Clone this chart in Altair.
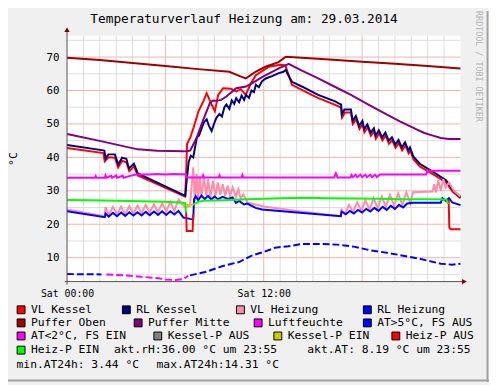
import altair as alt
import pandas as pd

# ---------------- data (x = hours since Sat 00:00, y = °C) ----------------
vl_kessel = [[(0, 42.8), (2.22, 41.3), (2.3, 38.8), (2.52, 40.0), (2.92, 39.9), (3.12, 37.0),
              (3.36, 39.0), (3.62, 38.5), (3.8, 35.9), (4.08, 37.3), (4.32, 34.6), (7.2, 28.3),
              (7.26, 34.0), (7.32, 44.0), (7.52, 46.0), (7.72, 48.9), (8.02, 53.8), (8.32, 56.8),
              (8.52, 59.2), (8.82, 55.8), (9.02, 53.8), (9.22, 58.7), (9.52, 60.7), (10.0, 60.5),
              (10.32, 59.7), (10.6, 60.4), (10.9, 58.7), (11.2, 62.0), (11.52, 64.6), (12.32, 67.1),
              (13.0, 67.7), (13.32, 67.5), (13.72, 61.7), (14.32, 60.2), (15.3, 57.8), (16.32, 55.8),
              (16.72, 54.9), (16.78, 51.9), (16.95, 53.4), (17.32, 53.4), (17.44, 50.0), (17.64, 51.4),
              (17.84, 48.5), (18.04, 50.0), (18.14, 47.5), (18.34, 49.0), (18.54, 46.5), (18.74, 47.8),
              (18.84, 45.6), (19.04, 47.2), (19.24, 45.1), (19.44, 46.5), (19.64, 44.1), (19.84, 45.1),
              (20.04, 42.9), (20.24, 44.3), (20.44, 42.1), (20.64, 43.6), (20.84, 41.2), (20.94, 42.0),
              (21.14, 39.4), (21.52, 37.3), (22.32, 35.0), (23.12, 32.5), (23.52, 29.8), (24.0, 27.8)]]

rl_kessel = [[(0, 43.7), (2.22, 42.1), (2.28, 42.0), (2.36, 39.6), (2.52, 40.9), (2.92, 40.9),
              (3.12, 37.9), (3.36, 39.9), (3.62, 39.6), (3.78, 36.7), (4.08, 38.1), (4.32, 35.2),
              (7.22, 28.5), (7.3, 33.2), (7.42, 38.6), (7.55, 40.5), (7.7, 40.0), (7.92, 46.0),
              (8.05, 46.5), (8.2, 48.5), (8.35, 50.5), (8.52, 51.4), (8.65, 49.5), (8.82, 47.9),
              (9.0, 50.5), (9.12, 51.9), (9.3, 53.0), (9.45, 52.2), (9.6, 55.0), (9.72, 55.8),
              (9.9, 54.5), (10.05, 57.0), (10.2, 56.0), (10.32, 57.7), (10.5, 56.5), (10.65, 58.5),
              (10.8, 57.2), (10.92, 58.7), (11.1, 57.8), (11.25, 60.0), (11.4, 59.5), (11.52, 61.7),
              (11.7, 61.0), (11.9, 62.8), (12.12, 63.6), (12.5, 64.3), (12.92, 65.2), (13.2, 65.6),
              (13.35, 66.2), (13.45, 65.0), (13.72, 62.6), (14.32, 61.2), (15.32, 58.7), (16.32, 56.8),
              (16.72, 55.8), (16.76, 52.8), (16.92, 54.3), (17.32, 54.3), (17.42, 50.9), (17.62, 52.4),
              (17.82, 49.4), (18.02, 50.9), (18.12, 48.4), (18.32, 49.9), (18.52, 47.4), (18.72, 48.7),
              (18.82, 46.5), (19.02, 48.1), (19.22, 46.0), (19.42, 47.4), (19.62, 45.0), (19.82, 46.0),
              (20.02, 43.8), (20.22, 45.2), (20.42, 43.0), (20.62, 44.5), (20.82, 42.1), (20.92, 43.0),
              (21.12, 40.3), (21.52, 38.1), (22.32, 35.7), (23.12, 33.2), (23.52, 30.3), (24.0, 28.1)]]

vl_heizung = [[(0, 24.4), (2.3, 22.4), (2.35, 25.1), (2.55, 22.8), (2.8, 25.2), (3.05, 22.9),
               (3.3, 25.3), (3.55, 23.0), (3.8, 25.4), (4.05, 23.2), (4.3, 25.6), (4.55, 23.3),
               (4.8, 25.8), (5.05, 23.5), (5.3, 26.0), (5.55, 23.6), (5.8, 26.3), (6.05, 23.8),
               (6.3, 26.7), (6.55, 24.0), (6.8, 27.4), (7.0, 26.2), (7.2, 25.0), (7.5, 25.5),
               (7.7, 37.0), (7.8, 27.0), (7.9, 35.0), (8.0, 27.5), (8.1, 34.5), (8.2, 28.0),
               (8.35, 34.0), (8.5, 28.5), (8.6, 33.5), (8.75, 28.0), (8.9, 33.0), (9.05, 28.5),
               (9.2, 32.5), (9.35, 28.8), (9.5, 32.0), (9.65, 28.5), (9.8, 31.5), (9.95, 28.5),
               (10.1, 31.0), (10.3, 28.2), (10.45, 30.5), (10.6, 27.5), (10.75, 29.0), (11.0, 26.5),
               (11.5, 25.9), (12.0, 25.3), (14.0, 24.0), (16.7, 22.4), (16.75, 24.4), (16.95, 23.2),
               (17.2, 25.8), (17.45, 23.6), (17.7, 26.6), (17.95, 24.0), (18.2, 27.2), (18.45, 24.4),
               (18.7, 27.8), (18.95, 24.8), (19.2, 28.3), (19.45, 25.2), (19.7, 28.8), (19.95, 25.5),
               (20.2, 29.2), (20.45, 25.8), (20.7, 29.5), (20.95, 26.2), (21.1, 29.6), (22.3, 29.8),
               (22.4, 32.0), (22.5, 29.5), (22.65, 33.2), (22.8, 30.0), (22.95, 33.5), (23.1, 31.0),
               (23.3, 32.5), (23.6, 30.0), (24.0, 28.3)]]

rl_heizung = [[(0, 23.9), (2.3, 22.1), (2.35, 23.2), (2.55, 22.3), (2.8, 23.4), (3.05, 22.4),
               (3.3, 23.5), (3.55, 22.5), (3.8, 23.6), (4.05, 22.6), (4.3, 23.6), (4.55, 22.6),
               (4.8, 23.7), (5.05, 22.7), (5.3, 23.8), (5.55, 22.8), (5.8, 23.9), (6.05, 22.8),
               (6.3, 23.9), (6.55, 22.9), (6.8, 24.0), (7.1, 22.0), (7.5, 21.6), (7.7, 21.5),
               (7.75, 27.5), (7.85, 28.4), (8.0, 27.2), (8.2, 28.6), (8.4, 27.5), (8.6, 28.5),
               (8.8, 27.4), (9.0, 28.3), (9.2, 27.5), (9.5, 28.2), (9.8, 27.6), (10.1, 28.0),
               (10.3, 26.4), (10.5, 27.0), (10.8, 25.9), (11.0, 26.2), (11.5, 24.9), (11.9, 24.4),
               (16.7, 22.4), (16.75, 23.8), (17.0, 23.0), (17.25, 24.0), (17.5, 23.2), (17.75, 24.3),
               (18.0, 23.5), (18.25, 24.6), (18.5, 23.8), (18.75, 24.9), (19.0, 24.0), (19.25, 25.2),
               (19.5, 24.3), (19.75, 25.5), (20.0, 24.6), (20.25, 25.8), (20.5, 25.0), (20.75, 26.2),
               (21.1, 26.4), (22.8, 26.4), (22.9, 27.8), (23.1, 27.0), (23.3, 27.8), (23.5, 26.5),
               (24.0, 25.7)]]

puffer_oben = [[(0, 69.8), (2.0, 69.1), (4.0, 68.2), (6.0, 67.3), (8.0, 66.4), (9.9, 65.6),
                (10.5, 64.4), (10.9, 63.6), (11.2, 64.6), (11.5, 65.6), (12.1, 67.1), (12.9, 68.5),
                (13.35, 70.1), (16.0, 69.3), (18.0, 68.6), (20.0, 68.0), (22.0, 67.3), (24.0, 66.6)]]

puffer_mitte = [[(0, 47.0), (1.92, 45.0), (4.32, 42.4), (5.5, 42.0), (7.12, 41.8), (7.4, 41.9),
                 (7.52, 42.1), (7.92, 46.0), (8.32, 51.4), (8.72, 56.3), (8.9, 57.0), (9.12, 56.9),
                 (9.4, 57.2), (9.72, 58.2), (10.32, 60.7), (10.92, 61.2), (11.3, 62.2), (11.92, 64.1),
                 (12.92, 66.6), (13.52, 68.0), (14.3, 66.0), (15.32, 63.6), (16.3, 61.2), (17.32, 58.7),
                 (18.3, 56.0), (19.32, 53.3), (20.3, 50.8), (21.32, 48.4), (21.8, 47.3), (22.32, 46.5),
                 (22.8, 45.8), (23.3, 45.5), (24.0, 45.5)]]

luftfeuchte = [[(0, 33.9), (1.7, 33.9), (1.75, 34.4), (1.8, 33.9), (2.3, 33.9), (2.35, 34.6),
                (2.4, 33.9), (2.7, 34.5), (2.75, 33.9), (3.0, 34.6), (3.05, 33.9), (3.4, 34.5),
                (3.45, 33.9), (3.8, 34.4), (4.2, 34.9), (5.0, 34.9), (5.5, 35.0), (6.0, 34.9),
                (6.5, 35.0), (7.25, 34.9), (7.3, 34.0), (8.25, 34.0), (8.3, 34.6), (8.35, 34.0),
                (9.25, 34.0), (9.3, 34.6), (9.35, 34.0), (10.65, 34.0), (10.7, 34.7), (10.75, 34.0),
                (16.3, 34.0), (16.4, 35.2), (16.5, 34.0), (17.3, 34.0), (17.35, 34.7), (17.45, 34.1),
                (17.6, 34.8), (17.7, 34.1), (17.9, 34.8), (18.0, 34.1), (18.2, 34.8), (18.3, 34.1),
                (18.5, 34.8), (18.6, 34.1), (18.8, 34.8), (18.9, 34.1), (19.1, 34.9), (21.9, 34.9),
                (22.0, 36.0), (24.0, 36.0)]]

at_warm = [[(0, 5.1), (2.1, 5.0)],
           [(7.5, 4.7), (8.5, 5.8), (9.5, 7.5), (10.5, 8.7), (11.3, 10.7), (12.0, 11.7),
            (12.7, 13.0), (13.5, 13.4), (14.3, 14.1), (15.5, 14.1), (16.5, 13.9), (17.5, 13.3),
            (18.5, 12.2), (19.5, 11.5), (20.5, 10.6), (21.5, 9.7), (22.1, 9.0), (22.8, 8.2),
            (23.5, 7.9), (24.0, 8.2)]]

at_cold = [[(2.4, 5.0), (3.5, 4.7), (4.5, 4.3), (5.5, 3.9), (6.0, 3.5), (6.6, 3.3),
            (7.1, 3.6), (7.4, 4.6)]]

kessel_p_ein = [[(7.2, 26.0), (7.45, 25.7), (7.75, 26.0)]]

heiz_p_aus = [[(7.26, 24.0), (7.3, 18.0), (7.66, 18.0), (7.7, 23.0)],
              [(23.28, 27.4), (23.32, 19.0), (23.4, 18.5), (24.0, 18.5)]]

heiz_p_ein = [[(0, 27.25), (1.5, 27.2), (3.0, 27.0), (4.5, 26.9), (6.0, 26.7), (7.0, 26.4),
               (7.2, 26.3), (7.26, 23.5)],
              [(7.74, 26.0), (8.0, 26.7), (8.3, 27.0), (9.5, 27.2), (11.0, 27.5), (12.0, 27.6),
               (13.0, 27.8), (14.5, 27.9), (16.0, 27.8), (17.5, 27.7), (19.0, 27.6), (20.5, 27.5),
               (22.0, 27.5), (23.15, 27.4), (23.25, 26.0)]]

legend_names = ["VL Kessel", "RL Kessel", "VL Heizung", "RL Heizung",
                "Puffer Oben", "Puffer Mitte", "Luftfeuchte", "AT>5°C, FS AUS",
                "AT<2°C, FS EIN", "Kessel-P AUS", "Kessel-P EIN", "Heiz-P AUS",
                "Heiz-P EIN"]
legend_colors = ["#ff0000", "#000080", "#ff8ca8", "#0000ff",
                 "#a00000", "#800080", "#ff00ff", "#0000ff",
                 "#ff00ff", "#808080", "#cccc00", "#ff0000",
                 "#00ff00"]

# grid / tick values
hour_minor = [1, 2, 3, 4, 5, 7, 8, 9, 10, 11, 13, 14, 15, 16, 17, 19, 20, 21, 22, 23]
hour_major = [6, 12, 18]
deg_minor = [5, 15, 25, 35, 45, 55, 65, 75]
deg_major = [10, 20, 30, 40, 50, 60, 70]
x_label_hours = [0, 12]
x_label_texts = ["Sat 00:00", "Sat 12:00"]

akt_rh = "36.00"
akt_at = " 8.19"
min_at = " 3.44"
max_at = "14.31"
title_text = "Temperaturverlauf Heizung am: 29.03.2014"

# ---------------- layout (pixels relative to the plot's top-left corner) ----------------
LEGEND_ROW_Y = [278.7, 292.0, 305.3, 319.7]
LEGEND_ROW_X = [[-51, 56, 172, 301], [-51, 68, 190, 301], [-51, 88, 210, 330], [-51]]
NOTE_ROW_Y = 335.3

# ---------------- build tables ----------------
solid = [("VL Kessel", vl_kessel), ("RL Kessel", rl_kessel), ("VL Heizung", vl_heizung),
         ("RL Heizung", rl_heizung), ("Puffer Oben", puffer_oben), ("Puffer Mitte", puffer_mitte),
         ("Luftfeuchte", luftfeuchte), ("Kessel-P EIN", kessel_p_ein),
         ("Heiz-P AUS", heiz_p_aus), ("Heiz-P EIN", heiz_p_ein)]
dashed = [("AT>5°C, FS AUS", at_warm), ("AT<2°C, FS EIN", at_cold)]


def table(items):
    rows = []
    for si, (name, segs) in enumerate(items):
        for gi, seg in enumerate(segs):
            for pi, (h, v) in enumerate(seg):
                rows.append({"series": name, "seg": f"{si:02d}-{gi}", "i": pi, "h": h, "v": v})
    return pd.DataFrame(rows)


df_solid = table(solid)
df_dash = table(dashed)

MONO = "DejaVu Sans Mono"
x_scale = alt.Scale(domain=[0, 24], nice=False, zero=False)
y_scale = alt.Scale(domain=[2.85, 76.4], nice=False, zero=False)
color_scale = alt.Scale(domain=legend_names, range=legend_colors)

x_label_expr = " : ".join(f"datum.value == {k} ? '{t}'" for k, t in zip(x_label_hours, x_label_texts)) + " : ''"
x_axis = alt.Axis(values=x_label_hours, grid=False, ticks=False, domain=False,
                  labelExpr=x_label_expr, labelFont=MONO, labelFontSize=10, labelColor="black",
                  labelPadding=7, labelAngle=0, labelOverlap=False, labelFlush=False, title=None)
y_axis = alt.Axis(values=deg_major, grid=False, ticks=False, domain=False,
                  labelFont=MONO, labelFontSize=11, labelColor="black", labelPadding=8,
                  title="°C", titleFont=MONO, titleFontSize=11.5, titleFontWeight="normal",
                  titleColor="black", titleAngle=270, titleX=-54, titleY=125,
                  titleAlign="center", titleBaseline="middle")

X = alt.X("h:Q", scale=x_scale, axis=x_axis)
Y = alt.Y("v:Q", scale=y_scale, axis=y_axis)

grid_layers = [
    alt.Chart(pd.DataFrame({"h": hour_minor})).mark_rule(color="#dcdcdc", strokeWidth=1).encode(x=X),
    alt.Chart(pd.DataFrame({"v": deg_minor})).mark_rule(color="#dcdcdc", strokeWidth=1).encode(y=Y),
    alt.Chart(pd.DataFrame({"h": hour_major})).mark_rule(color="#f2b3b3", strokeWidth=1).encode(x=X),
    alt.Chart(pd.DataFrame({"v": deg_major})).mark_rule(color="#f2b3b3", strokeWidth=1).encode(y=Y),
]

lines = alt.Chart(df_solid).mark_line(strokeWidth=2, strokeCap="butt").encode(
    x=X, y=Y,
    color=alt.Color("series:N", scale=color_scale, legend=None),
    detail="seg:N",
    order="i:Q",
)

dash_lines = alt.Chart(df_dash).mark_line(strokeWidth=2, strokeDash=[7, 3], strokeCap="butt").encode(
    x=X, y=Y,
    color=alt.Color("series:N", scale=color_scale, legend=None),
    detail="seg:N",
    order="i:Q",
)

# legend drawn as squares + labels, coloured through the same colour scale
legend_layers = []
for idx, name in enumerate(legend_names):
    r, c = divmod(idx, 4)
    lx, ly = LEGEND_ROW_X[r][c], LEGEND_ROW_Y[r]
    src = pd.DataFrame({"series": [name]})
    legend_layers.append(
        alt.Chart(src).mark_square(size=64, filled=True, stroke="black", strokeWidth=1, opacity=1).encode(
            x=alt.value(lx + 4.3), y=alt.value(ly),
            fill=alt.Fill("series:N", scale=color_scale, legend=None)))
    legend_layers.append(
        alt.Chart(src).mark_text(font=MONO, fontSize=11.5, color="black", align="left",
                                 baseline="middle").encode(
            x=alt.value(lx + 14.3), y=alt.value(ly), text="series:N"))

AXC = "#5e4a4a"
ARROW = "#7f0000"
y_line = alt.Chart().mark_rule(color=AXC, strokeWidth=1).encode(
    x=alt.value(0), y=alt.value(-7), y2=alt.value(253))
x_line = alt.Chart().mark_rule(color=AXC, strokeWidth=1).encode(
    x=alt.value(-2), x2=alt.value(404), y=alt.value(250))
y_arrow = alt.Chart().mark_point(shape="triangle-up", filled=True, size=30, color=ARROW, opacity=1).encode(
    x=alt.value(0), y=alt.value(-6))
x_arrow = alt.Chart().mark_point(shape="triangle-right", filled=True, size=30, color=ARROW, opacity=1).encode(
    x=alt.value(404), y=alt.value(250))

shade_r = alt.Chart().mark_rule(color="#a0a0a0", strokeWidth=2).encode(
    x=alt.value(427.5), y=alt.value(-25), y2=alt.value(352))
shade_b = alt.Chart().mark_rule(color="#a0a0a0", strokeWidth=2).encode(
    x=alt.value(-60), x2=alt.value(429), y=alt.value(350.5))


def note(text, x, y, size=11.5, **kw):
    return alt.Chart().mark_text(text=text, font=MONO, fontSize=size, color="black",
                                 baseline="middle", **kw).encode(
        x=alt.value(x), y=alt.value(y))


notes = [
    note(f"akt.rH:{akt_rh} °C um 23:55", 47.7, LEGEND_ROW_Y[3], align="left"),
    note(f"akt.AT:{akt_at} °C um 23:55", 244.3, LEGEND_ROW_Y[3], align="left"),
    note(f"min.AT24h:{min_at} °C", -51.3, NOTE_ROW_Y, align="left"),
    note(f"max.AT24h:{max_at} °C", 91, NOTE_ROW_Y, align="left"),
]
title_mark = alt.Chart().mark_text(text=title_text, font=MONO, fontSize=13, color="black",
                                   align="center", baseline="alphabetic").encode(
    x=alt.value(180), y=alt.value(-12.5))
watermark = alt.Chart().mark_text(text="RRDTOOL / TOBI OETIKER", font=MONO, fontSize=8.5,
                                  color="#b4b4b4", angle=90, align="left", baseline="middle").encode(
    x=alt.value(419), y=alt.value(-25))

plot_bg = alt.Chart().mark_rect(color="white").encode(
    x=alt.value(0), x2=alt.value(400), y=alt.value(0), y2=alt.value(250))

chart = alt.layer(
    plot_bg, *grid_layers, lines, dash_lines, *legend_layers, y_line, x_line, y_arrow, x_arrow,
    shade_r, shade_b, watermark, title_mark, *notes
).properties(
    width=400, height=250,
    padding={"left": 60, "top": 25, "right": 29, "bottom": 102},
    autosize=alt.AutoSizeParams(type="none"),
    background="#f0f0f0",
).configure_view(stroke=None)

chart.save("out.html", embed_options={"renderer": "svg", "actions": False})
